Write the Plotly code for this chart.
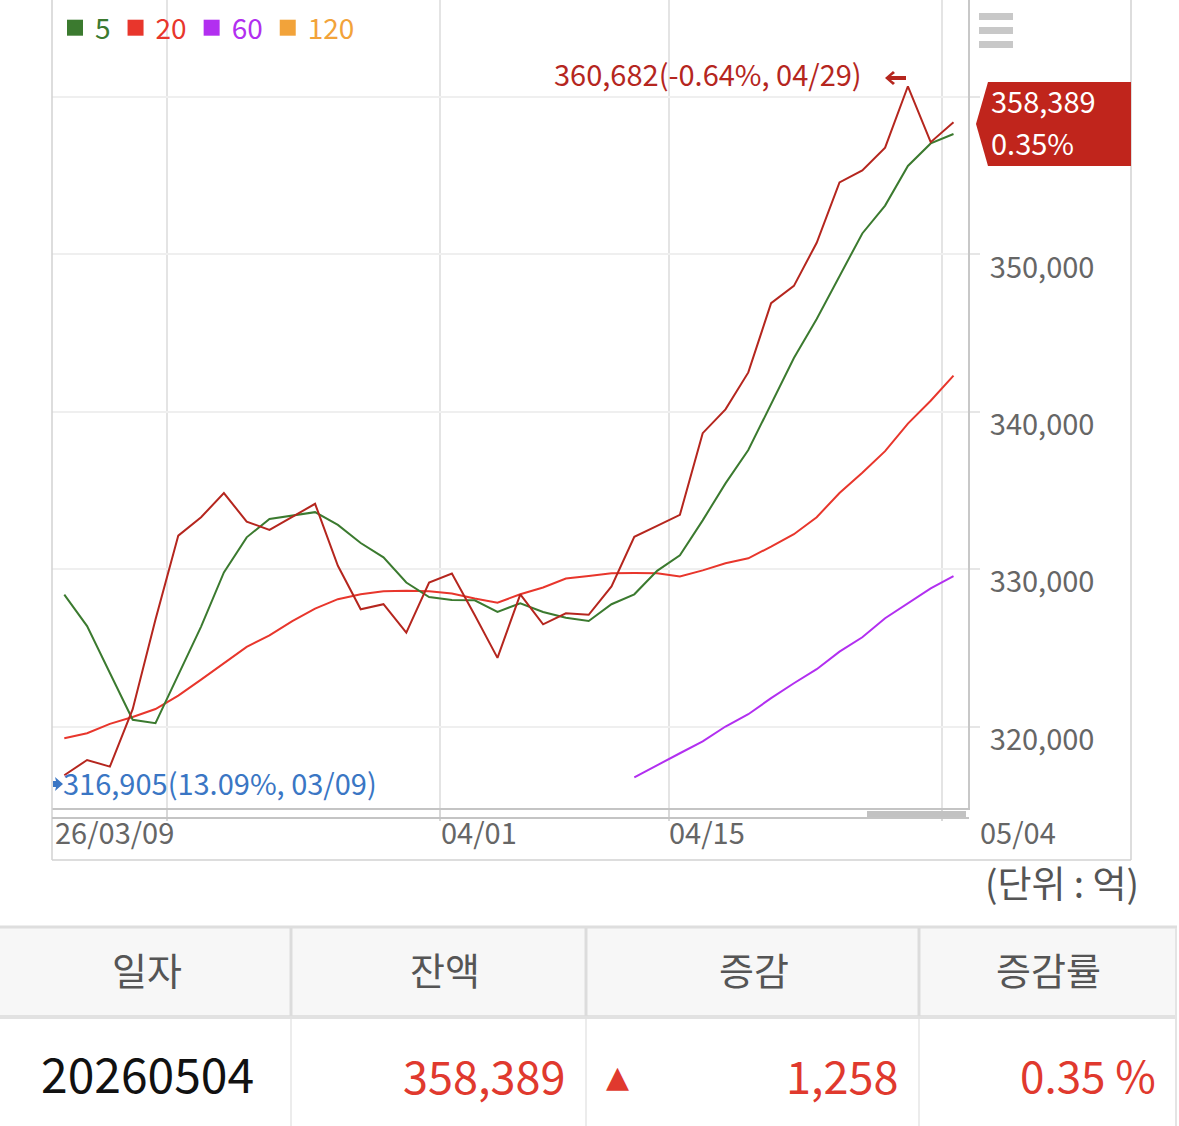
import plotly.graph_objects as go

W, H = 1179, 1126


def px(x):
    return x / W


def py(y):
    return 1 - y / H


FONT = "Noto Sans CJK KR"

# ---------------- data ----------------
dates = [
    "03/09", "03/10", "03/11", "03/12", "03/13", "03/16", "03/17", "03/18", "03/19", "03/20",
    "03/23", "03/24", "03/25", "03/26", "03/27", "03/30", "03/31",
    "04/01", "04/02", "04/03", "04/06", "04/07", "04/08", "04/09", "04/10", "04/13", "04/14",
    "04/15", "04/16", "04/17", "04/20", "04/21", "04/22", "04/23", "04/24", "04/27", "04/28",
    "04/29", "04/30", "05/04",
]
balance = [
    316905, 317870, 317450, 321100, 326800, 332130, 333300, 334830, 333020, 332490,
    333320, 334150, 330210, 327450, 327770, 325960, 329150, 329720, 327090, 324360,
    328400, 326490, 327190, 327100, 328900, 332050, 332750, 333450, 338640, 340150,
    342500, 346900, 348000, 350740, 354570, 355330, 356780, 360682, 357131, 358389,
]
ma5 = [
    328380, 326380, 323400, 320430, 320210, 323300, 326350, 329790, 332020, 333190,
    333400, 333620, 332810, 331660, 330750, 329150, 328230, 328040, 328020, 327280,
    327830, 327280, 326910, 326700, 327770, 328400, 329890, 330880, 333100, 335450,
    337570, 340500, 343410, 345900, 348630, 351330, 353100, 355620, 357050, 357650,
]
ma20 = [
    319250, 319570, 320170, 320600, 321110, 321960, 322980, 324040, 325060, 325790,
    326700, 327490, 328090, 328400, 328600, 328620, 328600, 328450, 328130, 327870,
    328400, 328830, 329400, 329570, 329740, 329750, 329740, 329540, 329920, 330370,
    330690, 331430, 332220, 333300, 334840, 336120, 337500, 339250, 340700, 342300,
]
ma60 = [None] * 25 + [
    316770, 317550, 318300, 319050, 320000, 320780, 321800, 322750, 323640, 324760,
    325670, 326880, 327830, 328780, 329550,
]
ma120 = [None] * 40

ma_names = ["5", "20", "60", "120"]
ma_colors = ["#3b7a2f", "#e8362c", "#b22ff0", "#f2a33a"]
ma_series = [ma5, ma20, ma60, ma120]
balance_color = "#b5261e"
min_color = "#3a76c4"

y_ticks = [320000, 330000, 340000, 350000, 360000]
y_ticktext = ["320,000", "330,000", "340,000", "350,000", ""]
x_grid = [4.5, 16.5, 26.5, 38.5]
x_labels = ["26/03/09", "04/01", "04/15", "05/04"]
x_label_px = [55, 441, 669, 980]

table_headers = ["일자", "잔액", "증감", "증감률"]
unit_text = "(단위 : 억)"
full_date = "20260504"

x_idx = list(range(len(dates)))

# ---------------- figure ----------------
fig = go.Figure()

for name, color, series in reversed(list(zip(ma_names, ma_colors, ma_series))):
    fig.add_trace(go.Scatter(x=x_idx, y=series, mode="lines", line=dict(color=color, width=2),
                             showlegend=False, hoverinfo="skip", name=name))
fig.add_trace(go.Scatter(x=x_idx, y=balance, mode="lines", line=dict(color=balance_color, width=2),
                         showlegend=False, name="잔액", customdata=dates,
                         hovertemplate="%{customdata}: %{y:,}<extra></extra>"))

# legend entries (square swatches)
for name, color in zip(ma_names, ma_colors):
    fig.add_trace(go.Scatter(x=[None], y=[None], mode="markers",
                             marker=dict(symbol="square", size=18, color=color),
                             name=f'<span style="color:{color}">{name}</span>', showlegend=True))

# ---------------- annotations ----------------
ann = []
imax = balance.index(max(balance))
imin = balance.index(min(balance))
last = balance[-1]
pct_from_max = (last / balance[imax] - 1) * 100
pct_from_min = (last / balance[imin] - 1) * 100
chg = balance[-1] - balance[-2]
chg_pct = chg / balance[-2] * 100

LBL = 29

ann.append(dict(x=imax, y=balance[imax], xref="x", yref="y", xanchor="right", yanchor="middle",
                xshift=-44, yshift=13, showarrow=False,
                text=f"{balance[imax]:,}({pct_from_max:.2f}%, {dates[imax]})",
                font=dict(family=FONT, size=LBL, color=balance_color)))
ann.append(dict(x=imin, y=balance[imin], xref="x", yref="y", xanchor="left", yanchor="middle",
                xshift=-3, yshift=-7, showarrow=False,
                text=f"{balance[imin]:,}({pct_from_min:.2f}%, {dates[imin]})",
                font=dict(family=FONT, size=LBL, color=min_color)))

# current value box texts
ann.append(dict(x=px(989), y=py(100), xref="paper", yref="paper", xanchor="left", yanchor="middle",
                showarrow=False, text=f"{last:,}", font=dict(family=FONT, size=LBL, color="white")))
ann.append(dict(x=px(989), y=py(142), xref="paper", yref="paper", xanchor="left", yanchor="middle",
                showarrow=False, text=f"{chg_pct:.2f}%", font=dict(family=FONT, size=LBL, color="white")))

# x labels
for lab, xp in zip(x_labels, x_label_px):
    ann.append(dict(x=px(xp - 2), y=py(831), xref="paper", yref="paper", xanchor="left", yanchor="middle",
                    showarrow=False, text=lab, font=dict(family=FONT, size=LBL, color="#666666")))

ann.append(dict(x=px(1141), y=py(882), xref="paper", yref="paper", xanchor="right", yanchor="middle",
                showarrow=False, text=unit_text.replace(" ", "&nbsp;"),
                font=dict(family=FONT, size=37, color="#555555")))

# table texts
header_cx = [147, 445, 754, 1048]
for t, cx in zip(table_headers, header_cx):
    ann.append(dict(x=px(cx), y=py(968), xref="paper", yref="paper", xanchor="center", yanchor="middle",
                    showarrow=False, text=t, font=dict(family=FONT, size=38, color="#555555")))

red = "#e0392e"
ann.append(dict(x=px(147), y=py(1072), xref="paper", yref="paper", xanchor="center", yanchor="middle",
                showarrow=False, text=full_date, font=dict(family=FONT, size=48, color="#111111")))
ann.append(dict(x=px(567), y=py(1074), xref="paper", yref="paper", xanchor="right", yanchor="middle",
                showarrow=False, text=f"{last:,}", font=dict(family=FONT, size=45, color=red)))
ann.append(dict(x=px(617), y=py(1076), xref="paper", yref="paper", xanchor="center", yanchor="middle",
                showarrow=False, text="▲", font=dict(family="DejaVu Sans", size=30, color=red)))
ann.append(dict(x=px(900), y=py(1074), xref="paper", yref="paper", xanchor="right", yanchor="middle",
                showarrow=False, text=f"{chg:,}", font=dict(family=FONT, size=45, color=red)))
ann.append(dict(x=px(1158), y=py(1074), xref="paper", yref="paper", xanchor="right", yanchor="middle",
                showarrow=False, text=f"{chg_pct:.2f} %", font=dict(family=FONT, size=44, color=red)))

# ---------------- shapes ----------------
shapes = []


def line(x0, y0, x1, y1, color, width):
    shapes.append(dict(type="line", xref="paper", yref="paper", x0=px(x0), y0=py(y0), x1=px(x1), y1=py(y1),
                       line=dict(color=color, width=width), layer="above"))


def rect(x0, y0, x1, y1, color, layer="above"):
    shapes.append(dict(type="rect", xref="paper", yref="paper", x0=px(x0), y0=py(y0), x1=px(x1), y1=py(y1),
                       fillcolor=color, line=dict(width=0), layer=layer))


def poly(pts, color):
    path = "M " + " L ".join(f"{px(a):.5f},{py(b):.5f}" for a, b in pts) + " Z"
    shapes.append(dict(type="path", xref="paper", yref="paper", path=path, fillcolor=color,
                       line=dict(width=0), layer="above"))


# outer frame
line(52, 0, 52, 860, "#d2d2d2", 1.5)
line(52, 860, 1131, 860, "#d2d2d2", 1.5)
line(1131, 0, 1131, 860, "#d2d2d2", 1.5)
# second x line + scroll thumb
line(52, 818, 969, 818, "#c4c4c4", 2)
rect(867, 811, 966, 817, "#c2c2c2")
# hamburger icon
for y0 in (13, 27, 41):
    rect(979, y0, 1013, y0 + 7, "#c8c8c8")
# current value tag
poly([(988, 82), (1131, 82), (1131, 166), (988, 166), (976, 124)], "#c0251c")
# arrows next to max / min labels
poly([(885, 78), (893, 71), (895, 73), (891, 76), (906, 76), (906, 80), (891, 80), (895, 83), (893, 85)],
     balance_color)
poly([(53, 781), (56, 781), (55, 777), (63, 784), (55, 791), (56, 787), (53, 787)], min_color)
# table
rect(0, 928, 1177, 1016, "#f7f7f7", layer="below")
line(0, 927, 1177, 927, "#dedede", 3)
line(0, 1017, 1177, 1017, "#e2e2e2", 4)
for xc in (291, 586, 919):
    line(xc, 928, xc, 1016, "#dcdcdc", 3)
    line(xc, 1019, xc, 1126, "#ececec", 2)
line(1176, 928, 1176, 1126, "#e4e4e4", 2)

fig.update_layout(
    width=W, height=H,
    margin=dict(l=0, r=0, t=0, b=0),
    paper_bgcolor="white", plot_bgcolor="white",
    font=dict(family=FONT),
    showlegend=True,
    legend=dict(orientation="h", x=px(55), y=py(28), xanchor="left", yanchor="middle",
                font=dict(family=FONT, size=28), bgcolor="rgba(0,0,0,0)", itemclick=False,
                itemdoubleclick=False, tracegroupgap=0),
    hovermode="closest",
    annotations=ann,
    shapes=shapes,
    xaxis=dict(domain=[px(52), px(968)], range=[-0.539, 39.636], tickmode="array", tickvals=x_grid,
               showticklabels=False, showgrid=True, gridcolor="#e4e4e4", gridwidth=2,
               ticks="outside", ticklen=11, tickcolor="#d8d8d8", tickwidth=2,
               showline=True, linecolor="#c4c4c4", linewidth=2, zeroline=False, fixedrange=True),
    yaxis=dict(domain=[py(807.5), 1], side="right", range=[314853, 366164], tickmode="array",
               tickvals=y_ticks, ticktext=y_ticktext, showgrid=True, gridcolor="#efefef", gridwidth=2,
               ticks="outside", ticklen=10, tickcolor="#e6e6e6", tickwidth=2,
               showline=True, linecolor="#c8c8c8", linewidth=2, zeroline=False,
               tickfont=dict(family=FONT, size=LBL, color="#666666"),
               ticklabelshift=13, ticklabelstandoff=4, fixedrange=True),
)

fig.write_html("out.html", config={"displayModeBar": False},
               post_script="document.body.style.margin='0px';document.body.style.overflow='hidden';")
